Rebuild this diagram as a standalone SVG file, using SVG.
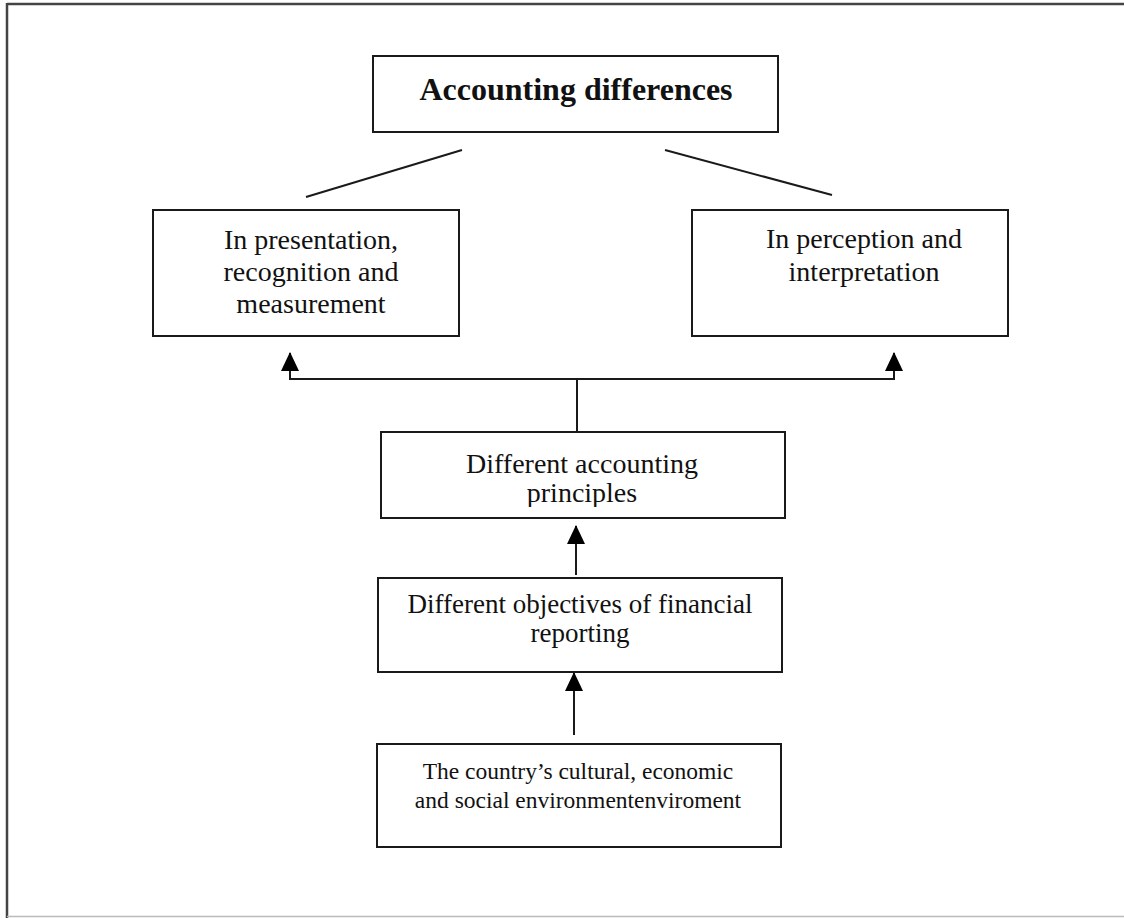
<svg xmlns="http://www.w3.org/2000/svg" width="1124" height="918" viewBox="0 0 1124 918">
  <style>
    .box { fill: #ffffff; stroke: #1a1a1a; stroke-width: 2; }
    .lbl { font-family: "Liberation Serif", "Times New Roman", serif; fill: #111; text-anchor: middle; }
    .title { font-weight: bold; font-size: 32px; }
    .conn { stroke: #1a1a1a; stroke-width: 2; fill: none; }
  </style>
  <defs>
    <!-- filled arrowhead drawn along +x, tip at the path end -->
    <marker id="arrow" viewBox="0 0 19 18" refX="18" refY="9" markerWidth="19" markerHeight="18" markerUnits="userSpaceOnUse" orient="auto-start-reverse">
      <path d="M0 0 L19 9 L0 18 Z" fill="#000"/>
    </marker>
    <clipPath id="clipPrinciples">
      <rect x="381" y="432" width="404" height="75"/>
    </clipPath>
  </defs>

  <rect width="1124" height="918" fill="#ffffff"/>

  <!-- page frame -->
  <g id="frame">
    <line x1="7" y1="4" x2="1124" y2="4" stroke="#444" stroke-width="2.5"/>
    <line x1="7" y1="3" x2="7" y2="918" stroke="#444" stroke-width="2.5"/>
    <line x1="7" y1="916.5" x2="1124" y2="916.5" stroke="#bbb" stroke-width="1.5"/>
  </g>

  <!-- connectors -->
  <g id="connectors">
    <line class="conn" x1="462" y1="150" x2="306" y2="197"/>
    <line class="conn" x1="665" y1="150" x2="832" y2="195"/>
    <polyline class="conn" points="290,353 290,379 894,379 894,353" marker-start="url(#arrow)" marker-end="url(#arrow)"/>
    <line class="conn" x1="577" y1="379" x2="577" y2="432"/>
    <line class="conn" x1="576" y1="575" x2="576" y2="526" marker-end="url(#arrow)"/>
    <line class="conn" x1="574" y1="735" x2="574" y2="673" marker-end="url(#arrow)"/>
  </g>

  <g id="node-accounting-differences">
    <rect class="box" x="373" y="56" width="405" height="76"/>
    <text class="lbl title" x="576" y="100">Accounting differences</text>
  </g>

  <g id="node-presentation">
    <rect class="box" x="153" y="210" width="306" height="126"/>
    <text class="lbl" font-size="28" x="311" y="249">In presentation,</text>
    <text class="lbl" font-size="28" x="311" y="281">recognition and</text>
    <text class="lbl" font-size="28" x="311" y="313">measurement</text>
  </g>

  <g id="node-perception">
    <rect class="box" x="692" y="210" width="316" height="126"/>
    <text class="lbl" font-size="28" x="864" y="248">In perception and</text>
    <text class="lbl" font-size="28" x="864" y="281">interpretation</text>
  </g>

  <g id="node-principles">
    <rect class="box" x="381" y="432" width="404" height="86"/>
    <g clip-path="url(#clipPrinciples)">
      <text class="lbl" font-size="28" x="582" y="473">Different accounting</text>
      <text class="lbl" font-size="28" x="582" y="502">principles</text>
    </g>
  </g>

  <g id="node-objectives">
    <rect class="box" x="378" y="578" width="404" height="94"/>
    <text class="lbl" font-size="27" x="580" y="613">Different objectives of financial</text>
    <text class="lbl" font-size="27" x="580" y="642">reporting</text>
  </g>

  <g id="node-environment">
    <rect class="box" x="377" y="744" width="404" height="103"/>
    <text class="lbl" font-size="23.5" x="578" y="779">The country’s cultural, economic</text>
    <text class="lbl" font-size="23.5" x="578" y="808">and social environmentenviroment</text>
  </g>
</svg>
